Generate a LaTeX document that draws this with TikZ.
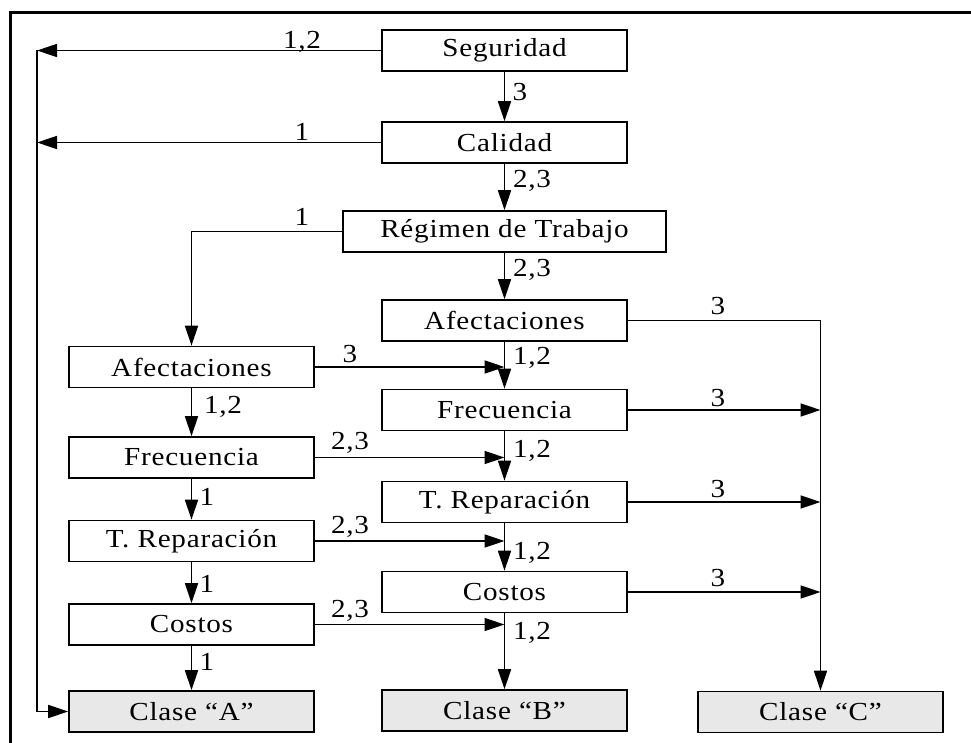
\documentclass[tikz,border=0pt]{standalone}
\usepackage{fontspec}
\setmainfont[LetterSpace=3,FakeStretch=1.12]{Liberation Serif}
\usetikzlibrary{arrows.meta}
\definecolor{classfill}{RGB}{232,232,232}
\begin{document}
\begin{tikzpicture}[x=1pt,y=-1pt,
  txt/.style={font=\fontsize{26}{30}\selectfont},
  box/.style={draw, line width=1.6pt, minimum width=245pt, minimum height=41pt, inner sep=0pt, txt},
  widebox/.style={box, minimum width=323pt},
  classbox/.style={box, fill=classfill},
  arr/.style={line width=1.6pt, -{Triangle[length=20pt,width=13pt]}},
  lbl/.style={inner sep=0pt, txt}]
\useasboundingbox (0,0) rectangle (971,743);
% frame
\draw[line width=3pt] (10,743) -- (10,12.5) -- (971,12.5);

% boxes
\node[box] (seg) at (504.5,50.5) {Seguridad};
\node[box] (cal) at (504.5,142.5) {Calidad};
\node[widebox] (reg) at (504.5,231.5) {Régimen de Trabajo};
\node[box] (rafe) at (504.5,320.5) {Afectaciones};
\node[box] (lafe) at (191.5,367) {Afectaciones};
\node[box] (rfre) at (504.5,410) {Frecuencia};
\node[box] (lfre) at (191.5,457.5) {Frecuencia};
\node[box] (rrep) at (504.5,502) {T. Reparación};
\node[box] (lrep) at (191.5,541) {T. Reparación};
\node[box] (rcos) at (504.5,592) {Costos};
\node[box] (lcos) at (191.5,624.5) {Costos};
\node[classbox] (clA) at (191.5,711.5) {Clase “A”};
\node[classbox] (clB) at (504.5,710.5) {Clase “B”};
\node[classbox] (clC) at (820.5,712) {Clase “C”};

\coordinate (ret) at (37,0);

% return line to class A
\draw[arr] (seg.west) -- (seg.west -| ret);
\draw[arr] (seg.west -| ret) |- (clA.west);
\draw[arr] (cal.west) -- (cal.west -| ret);

% main column
\draw[arr] (seg) -- (cal);
\draw[arr] (cal) -- (reg);
\draw[arr] (reg) -- (rafe);
\draw[arr] (rafe) -- (rfre);
\draw[arr] (rfre) -- (rrep);
\draw[arr] (rrep) -- (rcos);
\draw[arr] (rcos) -- (clB);

% left column
\draw[arr] (reg.west) -| (lafe.north);
\draw[arr] (lafe) -- (lfre);
\draw[arr] (lfre) -- (lrep);
\draw[arr] (lrep) -- (lcos);
\draw[arr] (lcos) -- (clA);

% left to right column
\draw[arr] (lafe.east) -- (lafe.east -| rafe.south);
\draw[arr] (lfre.east) -- (lfre.east -| rafe.south);
\draw[arr] (lrep.east) -- (lrep.east -| rafe.south);
\draw[arr] (lcos.east) -- (lcos.east -| rafe.south);

% right column to class C
\draw[arr] (rafe.east) -| (clC.north);
\draw[arr] (rfre.east) -- (rfre.east -| clC.north);
\draw[arr] (rrep.east) -- (rrep.east -| clC.north);
\draw[arr] (rcos.east) -- (rcos.east -| clC.north);

% labels
\node[lbl] (t1) at (302,42) {1,2};
\node[lbl] (t2) at (302,132) {1};
\node[lbl] (t3) at (302,217) {1};
\node[lbl] (t4) at (520,92) {3};
\node[lbl] (t5) at (532,181) {2,3};
\node[lbl] (t6) at (532,270) {2,3};
\node[lbl] (t7) at (718,306) {3};
\node[lbl] (t8) at (532,358) {1,2};
\node[lbl] (t9) at (718,398) {3};
\node[lbl] (t10) at (532,451) {1,2};
\node[lbl] (t11) at (718,489) {3};
\node[lbl] (t12) at (532,553) {1,2};
\node[lbl] (t13) at (718,578) {3};
\node[lbl] (t14) at (532,633) {1,2};
\node[lbl] (t15) at (350,354) {3};
\node[lbl] (t16) at (223,407) {1,2};
\node[lbl] (t17) at (350,443) {2,3};
\node[lbl] (t18) at (207,497) {1};
\node[lbl] (t19) at (350,527) {2,3};
\node[lbl] (t20) at (207,584) {1};
\node[lbl] (t21) at (350,611) {2,3};
\node[lbl] (t22) at (207,662) {1};
\end{tikzpicture}
\end{document}
